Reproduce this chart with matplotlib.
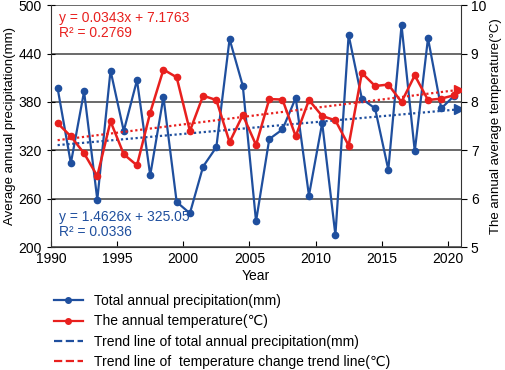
import matplotlib
matplotlib.use("Agg")
import matplotlib.pyplot as plt
from matplotlib.lines import Line2D
import numpy as np

plt.rcParams['font.family'] = ['Liberation Sans', 'DejaVu Sans']

years = np.arange(1990, 2021)
precip = [397, 304, 393, 259, 419, 344, 407, 289, 386, 256, 242, 300, 324, 458, 400,
          232, 334, 346, 385, 264, 354, 215, 463, 384, 372, 296, 475, 319, 459, 372, 388]
temp = [7.56, 7.29, 6.94, 6.47, 7.60, 6.92, 6.69, 7.78, 8.67, 8.51, 7.40, 8.13, 8.04, 7.17, 7.73,
        7.11, 8.06, 8.05, 7.29, 8.04, 7.71, 7.62, 7.10, 8.60, 8.33, 8.36, 8.00, 8.55, 8.04, 8.07, 8.14]

# trend line coefficients as printed on the chart (x = 1..n)
p_slope, p_icpt, p_r2 = 1.4626, 325.05, 0.0336
t_slope, t_icpt, t_r2 = 0.0343, 7.1763, 0.2769

blue = '#1f4f9e'
red = '#e8201e'
grid_c = '#505050'

fig = plt.figure(figsize=(5.05, 3.70), dpi=100)
ax = fig.add_axes([0.101, 0.332, 0.812, 0.654])
ax2 = ax.twinx()

xpos = years + 0.5
idx = np.arange(1, len(years) + 1)

ax.plot(xpos, precip, color=blue, lw=1.6, marker='o', ms=4.5, zorder=3)
ax.plot(xpos, p_slope * idx + p_icpt, color=blue, lw=1.6, ls=(0, (1, 1.2)), zorder=2)
ax.plot(xpos[-1] + 0.35, p_slope * (idx[-1] + 0.35) + p_icpt, marker='>', color=blue, ms=7, zorder=4)

ax2.plot(xpos, temp, color=red, lw=1.8, marker='o', ms=4.5, zorder=3)
ax2.plot(xpos, t_slope * idx + t_icpt, color=red, lw=1.6, ls=(0, (1, 1.2)), zorder=2)
ax2.plot(xpos[-1] + 0.35, t_slope * (idx[-1] + 0.35) + t_icpt, marker='>', color=red, ms=7, zorder=4)

ax.set_xlim(1990, 2021)
ax.set_ylim(200, 500)
ax2.set_ylim(5, 10)
ax.set_xticks(range(1990, 2021, 5))
ax.set_yticks(range(200, 501, 60))
ax2.set_yticks(range(5, 11))

ax.grid(axis='y', color=grid_c, lw=1.2)
ax.set_axisbelow(True)
for a in (ax, ax2):
    a.spines['top'].set_visible(False)
ax2.spines['left'].set_visible(False)
ax2.spines['bottom'].set_visible(False)
ax.spines['right'].set_visible(False)
for s in ('left', 'bottom'):
    ax.spines[s].set_color('#333333')
ax2.spines['right'].set_color('#333333')

ax.tick_params(axis='y', direction='inout', length=6, labelsize=10)
ax.tick_params(axis='x', direction='in', length=4, labelsize=10)
ax2.tick_params(axis='y', direction='out', length=4, labelsize=10, pad=3)

ax.set_xlabel('Year', fontsize=10, labelpad=2)
ax.set_ylabel('Average annual precipitation(mm)', fontsize=9.5, labelpad=2)
ax2.set_ylabel('The annual average temperature(°C)', fontsize=9.5, labelpad=3)

ax.text(0.02, 0.975, f'y = {t_slope}x + {t_icpt}\nR² = {t_r2}', transform=ax.transAxes,
        color=red, fontsize=10, va='top', linespacing=1.1)
ax.text(0.02, 0.155, f'y = {p_slope}x + {p_icpt}\nR² = {p_r2}', transform=ax.transAxes,
        color=blue, fontsize=10, va='top', linespacing=1.1)

handles = [
    Line2D([], [], color=blue, lw=1.6, marker='o', ms=4),
    Line2D([], [], color=red, lw=1.6, marker='o', ms=4),
    Line2D([], [], color=blue, lw=1.6, ls='--'),
    Line2D([], [], color=red, lw=1.6, ls='--'),
]
labels = ['Total annual precipitation(mm)',
          'The annual temperature(℃)',
          'Trend line of total annual precipitation(mm)',
          'Trend line of  temperature change trend line(℃)']
fig.legend(handles, labels, loc='upper left', bbox_to_anchor=(0.095, 0.22), frameon=False,
           fontsize=10, handlelength=2.1, labelspacing=0.45, handletextpad=0.8, borderaxespad=0)

fig.savefig('out.png', dpi=100)
